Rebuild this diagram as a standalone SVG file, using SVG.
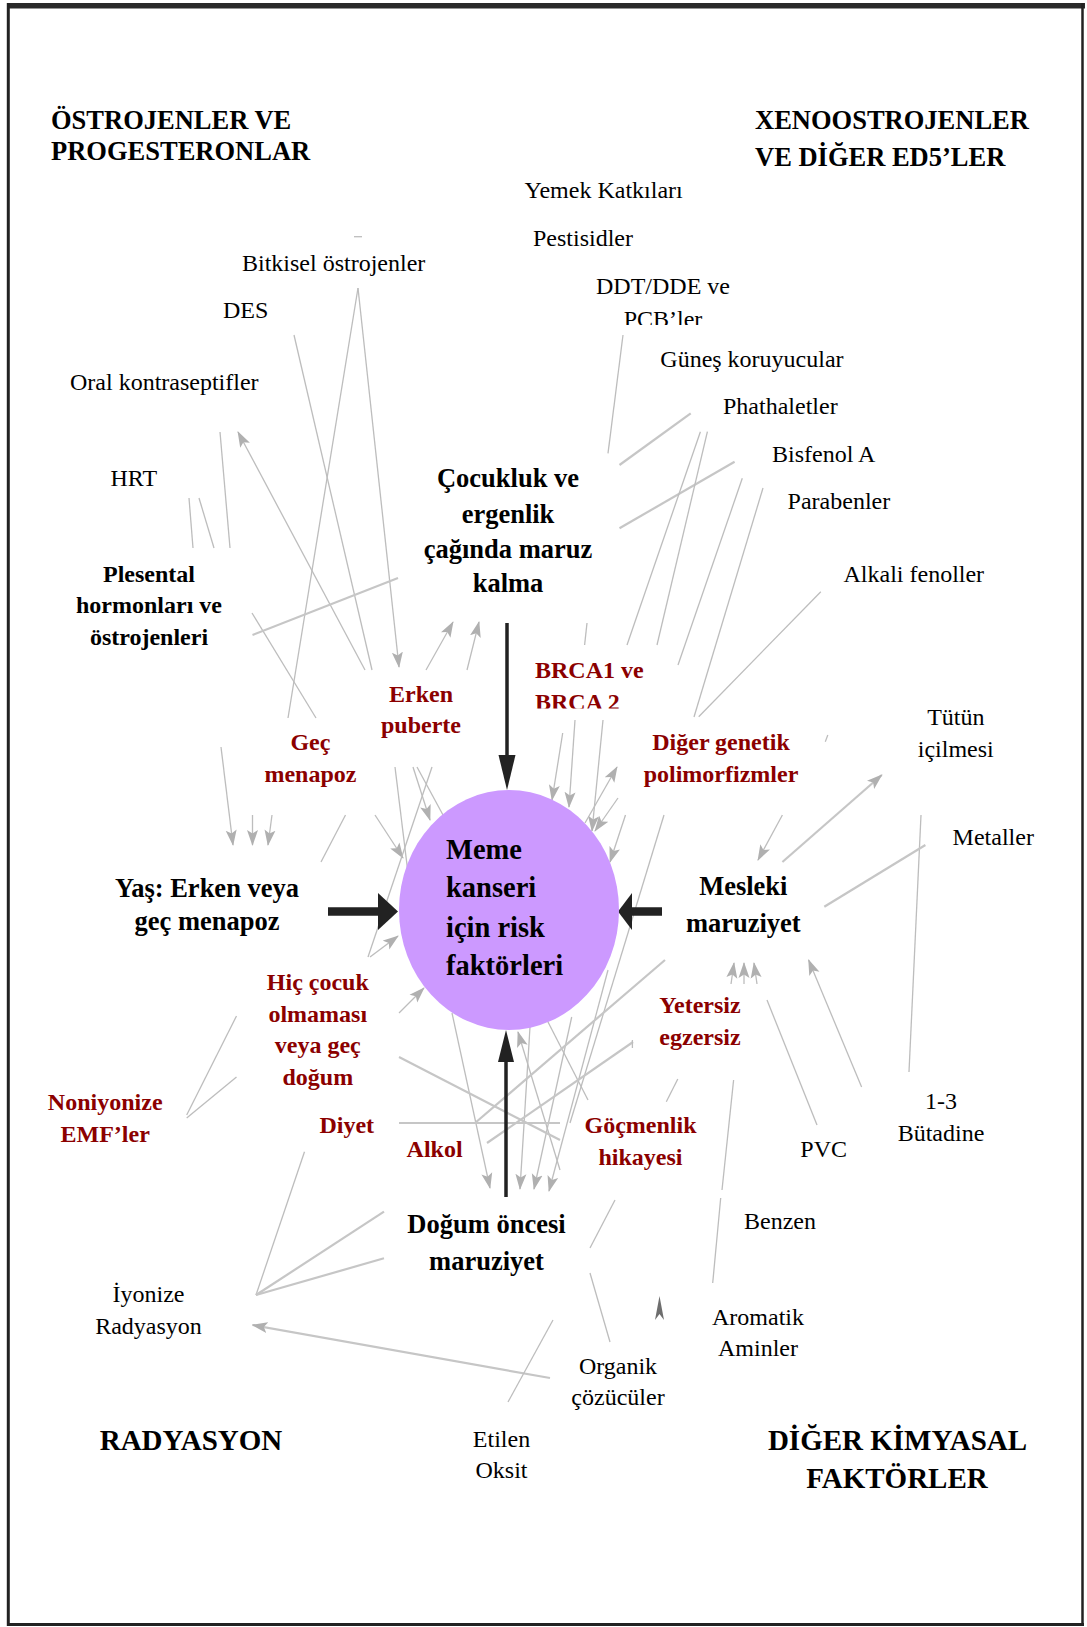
<svg xmlns="http://www.w3.org/2000/svg" width="1087" height="1627" viewBox="0 0 1087 1627">
<defs>
<style>
.h{font-family:"Liberation Serif","Times New Roman",serif;font-weight:bold;font-size:26.5px;fill:#000}
.hb{font-family:"Liberation Serif","Times New Roman",serif;font-weight:bold;font-size:29px;fill:#000;text-anchor:middle}
.n{font-family:"Liberation Serif","Times New Roman",serif;font-weight:bold;font-size:26.5px;fill:#000;text-anchor:middle}
.p{font-family:"Liberation Serif","Times New Roman",serif;font-weight:bold;font-size:24px;fill:#000;text-anchor:middle}
.c{font-family:"Liberation Serif","Times New Roman",serif;font-weight:bold;font-size:28.5px;fill:#000}
.r{font-family:"Liberation Serif","Times New Roman",serif;font-weight:bold;font-size:24px;fill:#8b0000;text-anchor:middle}
.rs{font-family:"Liberation Serif","Times New Roman",serif;font-weight:bold;font-size:24px;fill:#8b0000}
.g{font-family:"Liberation Serif","Times New Roman",serif;font-size:24px;fill:#000}
.gm{font-family:"Liberation Serif","Times New Roman",serif;font-size:24px;fill:#000;text-anchor:middle}
.l{stroke:#bdbdbd;stroke-width:1.3;fill:none}
.t{stroke:#c6c6c6;stroke-width:2.2;fill:none}
.a{marker-end:url(#ah)}
.k{stroke:#222;fill:none}
</style>
<marker id="ah" viewBox="0 0 16 12" refX="15" refY="6" markerWidth="16" markerHeight="12" markerUnits="userSpaceOnUse" orient="auto">
<path d="M0,0.5 L16,6 L0,11.5 L3.5,6 z" fill="#b0b0b0"/>
</marker>
<clipPath id="clipBrca"><rect x="520" y="680" width="120" height="28.5"/></clipPath>
<clipPath id="clipPcb"><rect x="610" y="300" width="110" height="25"/></clipPath>
</defs>
<rect x="0" y="0" width="1087" height="1627" fill="#fff"/>
<g id="frame">
<rect x="7" y="3" width="1078" height="5.5" fill="#2a2a2a"/>
<line x1="8.3" y1="3" x2="8.3" y2="1626" stroke="#222" stroke-width="3"/>
<line x1="1082.5" y1="3" x2="1082.5" y2="1626" stroke="#222" stroke-width="2.5"/>
<line x1="7" y1="1624.5" x2="1084" y2="1624.5" stroke="#222" stroke-width="3"/>
</g>
<g id="connectors">
<path class="l" d="M358,288 L288,718"/>
<path class="l a" d="M358,288 L399,667"/>
<path class="l" d="M354,236.7 L362,236.7"/>
<path class="l" d="M294,335 L372,670"/>
<path class="l" d="M220,432 L230,548"/>
<path class="l a" d="M365,670 L238,432"/>
<path class="l" d="M189,498 L193,548"/>
<path class="l" d="M199,498 L214,548"/>
<path class="l" d="M252,613 L316,718"/>
<path class="t" d="M252.5,635 L398,578"/>
<path class="l a" d="M426,670 L453,622"/>
<path class="l a" d="M467,670 L479,622"/>
<path class="l a" d="M221,747 L233,845"/>
<path class="l a" d="M252.5,815 L252.5,845"/>
<path class="l a" d="M272,815 L268,845"/>
<path class="l" d="M345.5,815 L321,862"/>
<path class="l a" d="M375,815 L403,858"/>
<path class="l" d="M395,767 L408,873"/>
<path class="l a" d="M413,767 L430,820"/>
<path class="l" d="M417,767 L443,815"/>
<path class="l" d="M432,767 L368,957"/>
<path class="l a" d="M370,957 L398,936"/>
<path class="l a" d="M399,1013 L424,988"/>
<path class="l" d="M186.7,1115 L236.5,1016"/>
<path class="l" d="M186.7,1118 L236.5,1077"/>
<path class="l" d="M256,1295 L304.5,1151.7"/>
<path class="t" d="M256,1295 L384,1211.7"/>
<path class="t" d="M256,1295 L384,1258.3"/>
<path class="t a" d="M550,1378 L252.5,1325"/>
<path class="l" d="M508,1402 L553,1320"/>
<path class="l" d="M615,1200 L590,1248"/>
<path class="l" d="M590,1273 L610,1342"/>
<path class="l" d="M733.6,1080 L722,1190"/>
<path class="l" d="M720.7,1198 L712.7,1283"/>
<path d="M655,1320 L659.5,1296 L664,1320 L659.5,1314 z" fill="#6e6e6e"/>
<path class="l" d="M767,1000 L817,1125"/>
<path class="l a" d="M861.6,1087 L808.6,960"/>
<path class="l" d="M677.8,1079 L666.3,1101.7"/>
<path class="l" d="M921,815 L909,1072"/>
<path class="t" d="M925.4,845 L824.3,906.7"/>
<path class="t a" d="M782.4,862 L881.8,775"/>
<path class="l a" d="M782.4,815 L758,860"/>
<path class="l" d="M827.8,735 L825.3,741.7"/>
<path class="l a" d="M731,984 L734,963"/>
<path class="l a" d="M744,984 L744,963"/>
<path class="l a" d="M757,984 L754,963"/>
<path class="l" d="M820.8,591.7 L698.7,716.7"/>
<path class="l" d="M763,488 L694,717"/>
<path class="l" d="M742.3,478.3 L678,665"/>
<path class="t" d="M734.6,461.7 L619.5,528.3"/>
<path class="l" d="M700.4,431.7 L627,645"/>
<path class="l" d="M707.4,431.7 L657,645"/>
<path class="t" d="M690.7,413.3 L619.5,465"/>
<path class="l" d="M623,335 L608,453.3"/>
<path class="l" d="M587,623 L584.6,645"/>
<path class="l a" d="M562.7,733 L552,800"/>
<path class="l a" d="M575,720 L569,807"/>
<path class="l a" d="M603,720 L592,831"/>
<path class="l a" d="M585,823 L617,767"/>
<path class="l a" d="M618,798 L595,831"/>
<path class="l a" d="M625.5,815 L610,862"/>
<path class="l" d="M664,815 L570,1123"/>
<path class="l a" d="M452,1013 L490,1188"/>
<path class="l a" d="M530,1027 L520,1189"/>
<path class="l a" d="M571.7,1017 L534,1189"/>
<path class="l a" d="M608,970 L549,1191"/>
<path class="l a" d="M560,1170 L518,1032"/>
<path class="l" d="M547,1020 L588,1100"/>
<path class="t" d="M665,960 L475,1123"/>
<path class="t" d="M633,1042 L487,1143"/>
<path class="t" d="M399,1057 L560,1140"/>
<path class="t" d="M399,1123 L560,1123"/>
<path class="l" d="M632.4,1040 L632.4,1048"/>
<path class="k" stroke-width="3.5" d="M507,623 L507,758"/>
<polygon points="498.5,755 515.5,755 507,790" fill="#222"/>
<path class="k" stroke-width="3.5" d="M506,1197 L506,1060"/>
<polygon points="498,1062 514,1062 506,1030" fill="#222"/>
<path class="k" stroke-width="8.5" d="M328,911.5 L381,911.5"/>
<polygon points="378,893 398,911.5 378,930" fill="#222"/>
<path class="k" stroke-width="8.5" d="M662,911.5 L629,911.5"/>
<polygon points="632,893 618,911.5 632,930" fill="#222"/>
</g>
<g id="heading-estrogens"><text class="h" x="51" y="128.5">ÖSTROJENLER VE</text><text class="h" x="51" y="159.5">PROGESTERONLAR</text></g>
<g id="heading-xeno"><text class="h" x="755" y="129">XENOOSTROJENLER</text><text class="h" x="755" y="165.5">VE DİĞER ED5’LER</text></g>
<g id="heading-radiation"><text class="hb" x="191" y="1450">RADYASYON</text></g>
<g id="heading-chemicals"><text class="hb" x="897.5" y="1450">DİĞER KİMYASAL</text><text class="hb" x="897" y="1488">FAKTÖRLER</text></g>
<g id="center">
<ellipse cx="509" cy="910" rx="110" ry="120" fill="#cc99ff"/>
<text class="c" x="446" y="858.5">Meme</text>
<text class="c" x="446" y="896.5">kanseri</text>
<text class="c" x="446" y="936.5">için risk</text>
<text class="c" x="446" y="975">faktörleri</text>
</g>
<g id="childhood"><text class="n" x="508" y="487">Çocukluk ve</text><text class="n" x="508" y="523">ergenlik</text><text class="n" x="508" y="558">çağında maruz</text><text class="n" x="508" y="592">kalma</text></g>
<g id="age"><text class="n" x="207" y="896.5">Yaş: Erken veya</text><text class="n" x="207" y="930">geç menapoz</text></g>
<g id="occupational"><text class="n" x="743.3" y="895">Mesleki</text><text class="n" x="743.3" y="931.5">maruziyet</text></g>
<g id="prenatal"><text class="n" x="486.5" y="1233">Doğum öncesi</text><text class="n" x="486.5" y="1269.5">maruziyet</text></g>
<g id="placental"><text class="p" x="149" y="581.7">Plesental</text><text class="p" x="149" y="613.3">hormonları ve</text><text class="p" x="149" y="645">östrojenleri</text></g>
<g id="early-puberty"><text class="r" x="421" y="701.7">Erken</text><text class="r" x="421" y="733.3">puberte</text></g>
<g id="late-menopause"><text class="r" x="310.4" y="750">Geç</text><text class="r" x="310.4" y="781.7">menapoz</text></g>
<g id="brca"><text class="rs" x="535" y="678.3">BRCA1 ve</text><text class="rs" x="535" y="710" clip-path="url(#clipBrca)">BRCA 2</text></g>
<g id="other-genetic"><text class="r" x="721" y="750">Diğer genetik</text><text class="r" x="721" y="781.7">polimorfizmler</text></g>
<g id="no-children"><text class="r" x="317.8" y="990">Hiç çocuk</text><text class="r" x="317.8" y="1021.7">olmaması</text><text class="r" x="317.8" y="1053.3">veya geç</text><text class="r" x="317.8" y="1085">doğum</text></g>
<g id="nonionizing"><text class="r" x="105.2" y="1110">Noniyonize</text><text class="r" x="105.2" y="1141.7">EMF’ler</text></g>
<g id="diet"><text class="r" x="346.8" y="1133.3">Diyet</text></g>
<g id="alcohol"><text class="r" x="434.6" y="1157.3">Alkol</text></g>
<g id="exercise"><text class="r" x="700" y="1013.3">Yetersiz</text><text class="r" x="700" y="1045">egzersiz</text></g>
<g id="migration"><text class="r" x="640.5" y="1133.3">Göçmenlik</text><text class="r" x="640.5" y="1165">hikayesi</text></g>
<g id="phyto"><text class="g" x="242" y="270.7">Bitkisel östrojenler</text></g>
<g id="des"><text class="g" x="223" y="318.3">DES</text></g>
<g id="oral"><text class="g" x="70" y="390">Oral kontraseptifler</text></g>
<g id="hrt"><text class="g" x="110.5" y="486">HRT</text></g>
<g id="food"><text class="g" x="524.5" y="198.3">Yemek Katkıları</text></g>
<g id="pesticides"><text class="g" x="533" y="246">Pestisidler</text></g>
<g id="ddt"><text class="g" x="596" y="294">DDT/DDE ve</text><text class="g" x="623.7" y="327" clip-path="url(#clipPcb)">PCB’ler</text></g>
<g id="sunscreen"><text class="g" x="660.3" y="366.7">Güneş koruyucular</text></g>
<g id="phthalates"><text class="g" x="723" y="414">Phathaletler</text></g>
<g id="bpa"><text class="g" x="772" y="461.7">Bisfenol A</text></g>
<g id="parabens"><text class="g" x="787.6" y="509.3">Parabenler</text></g>
<g id="alkylphenols"><text class="g" x="843.5" y="581.7">Alkali fenoller</text></g>
<g id="tobacco"><text class="gm" x="955.8" y="725">Tütün</text><text class="gm" x="955.8" y="756.7">içilmesi</text></g>
<g id="metals"><text class="g" x="952.6" y="845">Metaller</text></g>
<g id="butadiene"><text class="gm" x="941" y="1109.3">1-3</text><text class="gm" x="941" y="1140.7">Bütadine</text></g>
<g id="pvc"><text class="gm" x="823.7" y="1156.7">PVC</text></g>
<g id="benzene"><text class="gm" x="780" y="1229.3">Benzen</text></g>
<g id="amines"><text class="gm" x="758" y="1325">Aromatik</text><text class="gm" x="758" y="1356">Aminler</text></g>
<g id="solvents"><text class="gm" x="618" y="1374">Organik</text><text class="gm" x="618" y="1405">çözücüler</text></g>
<g id="ethylene"><text class="gm" x="501.5" y="1446.7">Etilen</text><text class="gm" x="501.5" y="1478.3">Oksit</text></g>
<g id="ionizing"><text class="gm" x="148.5" y="1301.7">İyonize</text><text class="gm" x="148.5" y="1334">Radyasyon</text></g>
</svg>
